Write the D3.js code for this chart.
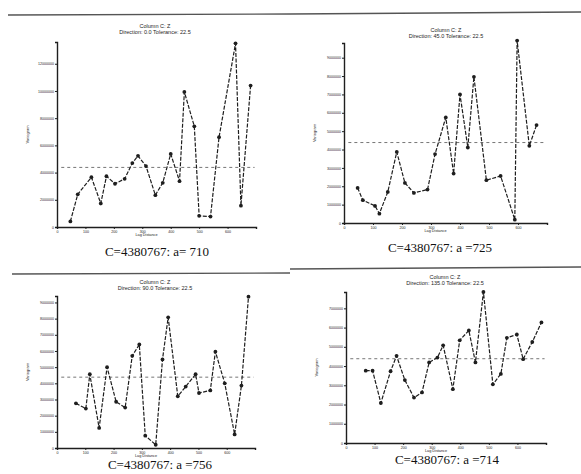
<!DOCTYPE html>
<html>
<head>
<meta charset="utf-8">
<script src="https://cdn.jsdelivr.net/npm/d3@7"></script>
<style>
  body { margin: 0; background: #fff; }
  svg { display: block; }
</style>
</head>
<body>
<svg id="chart" width="581" height="474"></svg>
<script>
var sill = 4380767;

var xTicks = [0, 100, 200, 300, 400, 500, 600];

var titles = ["Direction: 0.0  Tolerance: 22.5", "Direction: 45.0  Tolerance: 22.5",
              "Direction: 90.0  Tolerance: 22.5", "Direction: 135.0  Tolerance: 22.5"];
var captions = ["C=4380767: a= 710", "C=4380767: a =725", "C=4380767: a =756", "C=4380767: a =714"];

var lag0 = [47, 73, 121, 154, 174, 204, 238, 265, 285, 313, 346, 372, 400, 431, 448, 483, 500, 540, 570, 628, 647, 681];
var gam0 = [410000, 2400000, 3660000, 1730000, 3730000, 3180000, 3540000, 4700000, 5230000, 4480000, 2340000,
            3250000, 5370000, 3370000, 9930000, 7400000, 820000, 770000, 6600000, 13500000, 1570000, 10400000];

var lag45 = [47, 65, 107, 122, 151, 182, 210, 241, 288, 314, 351, 378, 400, 427, 448, 491, 540, 589, 597, 639, 664];
var gam45 = [1910000, 1240000, 930000, 510000, 1690000, 3870000, 2180000, 1640000, 1820000, 3750000, 5750000,
             2690000, 7000000, 4110000, 7960000, 2330000, 2560000, 180000, 9930000, 4200000, 5330000];

var lag90 = [67, 102, 116, 149, 177, 209, 241, 266, 291, 312, 349, 373, 393, 427, 455, 490, 502, 542, 560, 593, 628, 652, 677];
var gam90 = [2760000, 2440000, 4560000, 1240000, 5000000, 2860000, 2500000, 5700000, 6400000, 760000, 200000, 5480000,
             8080000, 3200000, 3800000, 4560000, 3400000, 3560000, 5960000, 4000000, 840000, 3860000, 9360000];

var lag135 = [69, 93, 122, 156, 177, 206, 238, 266, 291, 320, 340, 374, 398, 430, 453, 481, 514, 542, 563, 598, 620, 652, 684];
var gam135 = [3760000, 3760000, 2080000, 3730000, 4530000, 3270000, 2360000, 2630000, 4190000, 4440000, 5080000, 2800000,
              5340000, 5850000, 4190000, 7850000, 3050000, 3590000, 5470000, 5640000, 4360000, 5250000, 6270000];

var yTicks0 = [0, 2000000, 4000000, 6000000, 8000000, 10000000, 12000000];
var yTicks45 = [0, 1000000, 2000000, 3000000, 4000000, 5000000, 6000000, 7000000, 8000000, 9000000];
var yTicks90 = [0, 1000000, 2000000, 3000000, 4000000, 5000000, 6000000, 7000000, 8000000, 9000000];
var yTicks135 = [0, 1000000, 2000000, 3000000, 4000000, 5000000, 6000000, 7000000];

var svg = d3.select("#chart");
var ink = "#1e1e1e";

// scan rules between the panels
var rules = [[8, 15, 290, 14], [290, 14, 581, 12], [12, 274, 290, 273], [290, 269, 581, 267]];
svg.selectAll("line.rule").data(rules).enter().append("line")
    .attr("x1", function(d) { return d[0]; }).attr("y1", function(d) { return d[1]; })
    .attr("x2", function(d) { return d[2]; }).attr("y2", function(d) { return d[3]; })
    .attr("stroke", "#555").attr("stroke-width", 1.3);

var panels = [
  {lag: lag0, gam: gam0, ticks: yTicks0, ymax: 13600000, left: 57, right: 256, top: 42, bottom: 227, tx: 155, t1: 28, cap: 256, cx: 157},
  {lag: lag45, gam: gam45, ticks: yTicks45, ymax: 9800000, left: 344, right: 547, top: 43, bottom: 223, tx: 446, t1: 32, cap: 252, cx: 440},
  {lag: lag90, gam: gam90, ticks: yTicks90, ymax: 9400000, left: 57, right: 255, top: 296, bottom: 448, tx: 155, t1: 284, cap: 469, cx: 160},
  {lag: lag135, gam: gam135, ticks: yTicks135, ymax: 7850000, left: 346, right: 546, top: 292, bottom: 443, tx: 445, t1: 279, cap: 464, cx: 447}
];

panels.forEach(function(p, i) {
  var g = svg.append("g");

  var x = d3.scaleLinear().domain([0, 700]).range([p.left, p.right]);
  var y = d3.scaleLinear().domain([0, p.ymax]).range([p.bottom, p.top]);

  var xAxis = d3.axisBottom(x).tickValues(xTicks).tickSize(2).tickPadding(1);
  var yAxis = d3.axisLeft(y).tickValues(p.ticks).tickSize(2).tickPadding(1)
      .tickFormat(function(d) { return d === 0 ? "0" : d3.format("d")(d); });

  g.append("g").attr("transform", "translate(0," + p.bottom + ")").call(xAxis).call(styleAxis);
  g.append("g").attr("transform", "translate(" + p.left + ",0)").call(yAxis).call(styleAxis);

  // sill line
  g.append("line")
      .attr("x1", x(15)).attr("x2", x(695))
      .attr("y1", y(sill)).attr("y2", y(sill))
      .attr("stroke", "#666").attr("stroke-width", 0.9)
      .attr("stroke-dasharray", "3,3");

  var pts = p.lag.map(function(d, k) { return [d, p.gam[k]]; });
  var line = d3.line()
      .x(function(d) { return x(d[0]); })
      .y(function(d) { return y(d[1]); });

  g.append("path")
      .datum(pts)
      .attr("fill", "none")
      .attr("stroke", ink)
      .attr("stroke-width", 1.2)
      .attr("stroke-dasharray", "4,1.5")
      .attr("d", line);

  g.selectAll("circle").data(pts).enter().append("circle")
      .attr("cx", function(d) { return x(d[0]); })
      .attr("cy", function(d) { return y(d[1]); })
      .attr("r", 1.9)
      .attr("fill", ink);

  g.append("text").attr("x", p.tx).attr("y", p.t1)
      .attr("text-anchor", "middle").attr("font-family", "Liberation Sans, Arial")
      .attr("font-size", 5.5).attr("fill", ink).text("Column C: Z");
  g.append("text").attr("x", p.tx).attr("y", p.t1 + 5.5)
      .attr("text-anchor", "middle").attr("font-family", "Liberation Sans, Arial")
      .attr("font-size", 5.5).attr("fill", ink).text(titles[i]);

  g.append("text").attr("x", (p.left + p.right) / 2 - 10).attr("y", p.bottom + 9)
      .attr("text-anchor", "middle").attr("font-family", "Liberation Sans, Arial")
      .attr("font-size", 3.8).attr("fill", ink).text("Lag Distance");

  g.append("text")
      .attr("transform", "translate(" + (p.left - 28) + "," + ((p.top + p.bottom) / 2) + ") rotate(-90)")
      .attr("text-anchor", "middle").attr("font-family", "Liberation Sans, Arial")
      .attr("font-size", 4).attr("fill", ink).text("Variogram");

  g.append("text").attr("x", p.cx).attr("y", p.cap)
      .attr("text-anchor", "middle").attr("font-family", "Liberation Serif, Times New Roman, serif")
      .attr("font-size", 13).attr("fill", "#111").text(captions[i]);
});

function styleAxis(g) {
  g.select(".domain").attr("stroke", ink).attr("stroke-width", 1.4);
  g.selectAll(".tick line").attr("stroke", ink).attr("stroke-width", 1);
  g.selectAll(".tick text").attr("fill", ink).attr("font-size", 3.6).attr("font-family", "Liberation Sans, Arial");
}
</script>
</body>
</html>
